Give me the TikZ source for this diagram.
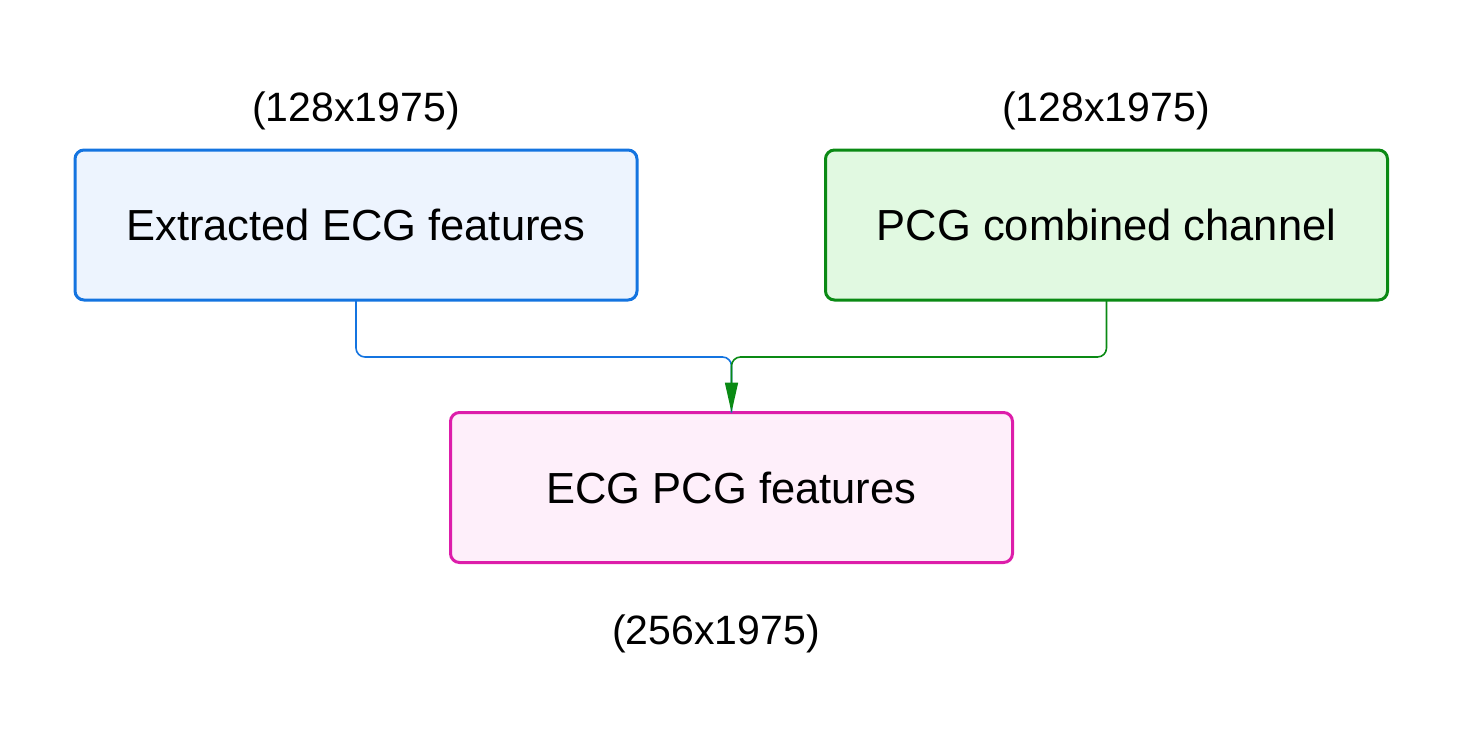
\documentclass[tikz,border=0pt]{standalone}
\usepackage{fontspec}
\setmainfont{Liberation Sans}
\usetikzlibrary{arrows.meta}
\definecolor{bluec}{HTML}{1474E0}
\definecolor{bluef}{HTML}{EDF4FE}
\definecolor{greenc}{HTML}{0A8A14}
\definecolor{greenf}{HTML}{E1F9E1}
\definecolor{magc}{HTML}{DD1DAA}
\definecolor{magf}{HTML}{FEEFFA}
\tikzset{
  box/.style={draw, line width=3pt, rounded corners=9pt, minimum width=562pt, minimum height=150pt, inner sep=0pt, outer sep=0pt, font=\fontsize{43.5}{52}\selectfont},
  dimlabel/.style={font=\fontsize{41}{49}\selectfont, inner sep=0pt},
  conn/.style={line width=1.6pt, rounded corners=9pt}
}
\begin{document}
\begin{tikzpicture}[x=1pt,y=-1pt]
\useasboundingbox (0,0) rectangle (1463,744);
\node[box, draw=bluec, fill=bluef] (ecg) at (356,225) {Extracted ECG features};
\node[box, draw=greenc, fill=greenf] (pcg) at (1106.5,225) {PCG combined channel};
\node[box, draw=magc, fill=magf] (out) at (731.5,487.5) {ECG PCG features};
\node[dimlabel] (l1) at (356,111) {(128x1975)};
\node[dimlabel] (l2) at (1106,111) {(128x1975)};
\node[dimlabel] (l3) at (716,634) {(256x1975)};
\coordinate (m) at (731.5,357);
\draw[conn, draw=bluec] (ecg.south) |- (m) -- (out.north);
\draw[conn, draw=greenc, -{Triangle[length=30pt,width=13pt]}] (pcg.south) |- (m) -- (out.north);
\end{tikzpicture}
\end{document}
